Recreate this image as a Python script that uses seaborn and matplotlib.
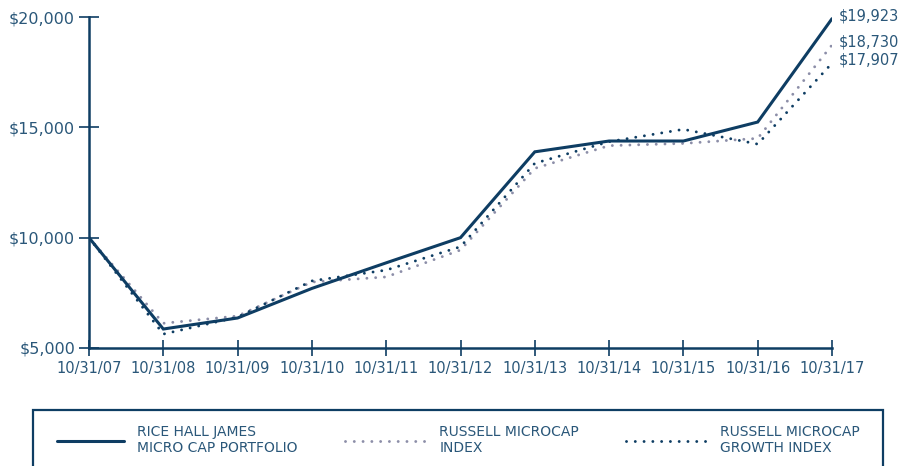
import matplotlib
matplotlib.use("Agg")
import matplotlib.pyplot as plt
from matplotlib.patches import Rectangle
from matplotlib.legend_handler import HandlerLine2D
import seaborn as sns
import pandas as pd

dates = ["10/31/07", "10/31/08", "10/31/09", "10/31/10", "10/31/11", "10/31/12",
         "10/31/13", "10/31/14", "10/31/15", "10/31/16", "10/31/17"]
rice_hall = [10000, 5860, 6360, 7700, 8860, 10000, 13890, 14380, 14380, 15240, 19923]
russell_micro = [10000, 6120, 6450, 7990, 8220, 9440, 13140, 14170, 14270, 14500, 18730]
russell_growth = [10000, 5630, 6400, 8040, 8530, 9590, 13370, 14350, 14910, 14240, 17907]
labels = ["RICE HALL JAMES\nMICRO CAP PORTFOLIO", "RUSSELL MICROCAP\nINDEX",
          "RUSSELL MICROCAP\nGROWTH INDEX"]
yticks = [5000, 10000, 15000, 20000]

NAVY = "#0e3d63"
GREY = "#8c8ea8"
TEXT = "#2a5779"

sns.set_theme(style="white")
plt.rcParams["font.family"] = ["DejaVu Sans"]

W, H = 902, 466
fig = plt.figure(figsize=(W / 100, H / 100), dpi=100)
ax = fig.add_axes([89 / W, 1 - 348 / H, (832 - 89) / W, (348 - 17) / H])

xs = list(range(len(dates)))
df = pd.DataFrame({"x": xs, "rice": rice_hall, "micro": russell_micro, "growth": russell_growth})

dot = (0, (0.01, 3.0))
sns.lineplot(data=df, x="x", y="micro", ax=ax, color=GREY, linewidth=2.1,
             linestyle=dot, dash_capstyle="round", label=labels[1], zorder=2)
sns.lineplot(data=df, x="x", y="growth", ax=ax, color=NAVY, linewidth=2.1,
             linestyle=dot, dash_capstyle="round", label=labels[2], zorder=3)
sns.lineplot(data=df, x="x", y="rice", ax=ax, color=NAVY, linewidth=2.2,
             label=labels[0], zorder=4, solid_joinstyle="miter")

ax.set_xlim(0, len(dates) - 1)
ax.set_ylim(5000, 20000)
ax.set_xticks(xs)
ax.set_xticklabels(dates)
ax.set_yticks(yticks)
ax.set_yticklabels([f"${v:,}" for v in yticks])
ax.set_xlabel("")
ax.set_ylabel("")

for s in ["top", "right"]:
    ax.spines[s].set_visible(False)
for s in ["left", "bottom"]:
    ax.spines[s].set_color(NAVY)
    ax.spines[s].set_linewidth(1.8)
ax.tick_params(axis="y", direction="inout", length=14, width=1.2, color=NAVY,
               labelsize=11.5, labelcolor=TEXT, pad=3, left=True)
ax.tick_params(axis="x", direction="inout", length=12, width=1.2, color=NAVY,
               labelsize=10.5, labelcolor=TEXT, pad=3, bottom=True)

# end-value labels
for vals in (rice_hall, russell_micro, russell_growth):
    ax.annotate(f"${vals[-1]:,}", xy=(xs[-1], vals[-1]), xytext=(4.5, 2),
                textcoords="offset points", va="center", ha="left",
                fontsize=10.5, color=TEXT, annotation_clip=False)


class ShortLine(HandlerLine2D):
    def __init__(self, shrink, **kw):
        super().__init__(**kw)
        self.shrink = shrink

    def create_artists(self, legend, orig_handle, xdescent, ydescent, width,
                       height, fontsize, trans):
        return super().create_artists(legend, orig_handle, xdescent - self.shrink,
                                      ydescent, width - self.shrink, height,
                                      fontsize, trans)


# legend
handles, labs = ax.get_legend_handles_labels()
if ax.get_legend() is not None:
    ax.get_legend().remove()
order = [labs.index(l) for l in labels]
handles = [handles[i] for i in order]
labs = [labs[i] for i in order]
x0, x1 = 43 / W, 860 / W
yc = 1 - 440 / H
fig.legend(handles, labs, loc="center left", bbox_to_anchor=(x0, yc, x1 - x0, 0),
           mode="expand", ncol=3, frameon=False, fontsize=10, borderpad=0,
           handlelength=5.8, handletextpad=1.0, labelcolor=TEXT, borderaxespad=0,
           labelspacing=0.2, handler_map={handles[0]: ShortLine(10)})

fig.add_artist(Rectangle((33 / W, -10 / H), (883 - 33) / W, (466 - 410 + 10) / H,
                         transform=fig.transFigure, fill=False, edgecolor=NAVY,
                         linewidth=1.6, clip_on=False))

fig.savefig("out.png", dpi=100)
